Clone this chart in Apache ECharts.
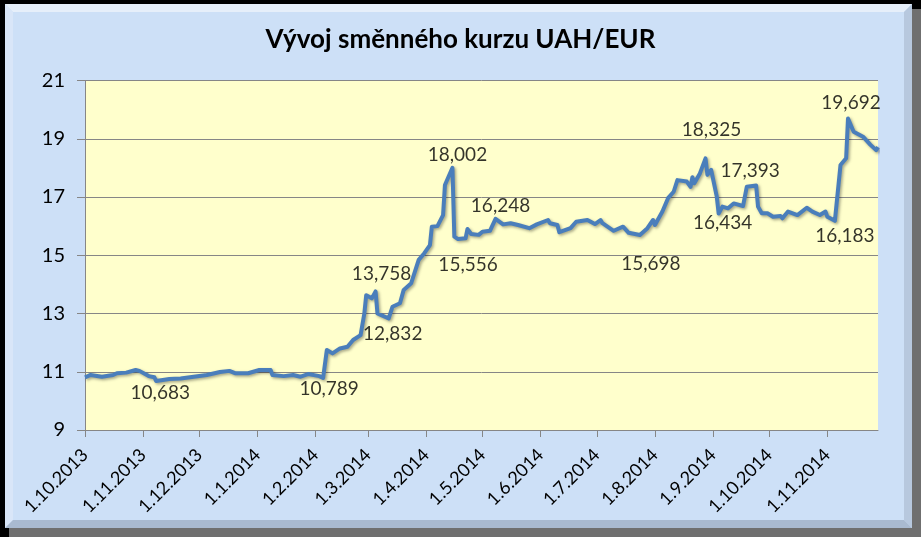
<!DOCTYPE html>
<html><head><meta charset="utf-8">
<script src="https://cdn.jsdelivr.net/npm/echarts@6/dist/echarts.min.js"></script>
<style>html,body{margin:0;padding:0;background:#000;}#c{width:921px;height:537px;}</style>
</head><body><div id="c"></div>
<script>
// ---- data ----
const dates = ['2013-10-01','2013-10-04','2013-10-10','2013-10-16','2013-10-18','2013-10-23','2013-10-28','2013-10-30','2013-11-04','2013-11-07','2013-11-08','2013-11-15','2013-11-21','2013-11-28','2013-12-05','2013-12-12','2013-12-17','2013-12-20','2013-12-27','2014-01-02','2014-01-08','2014-01-09','2014-01-15','2014-01-20','2014-01-24','2014-01-28','2014-02-03','2014-02-05','2014-02-07','2014-02-10','2014-02-14','2014-02-18','2014-02-21','2014-02-25','2014-02-27','2014-02-28','2014-03-03','2014-03-05','2014-03-06','2014-03-12','2014-03-14','2014-03-18','2014-03-20','2014-03-24','2014-03-28','2014-03-31','2014-04-03','2014-04-04','2014-04-07','2014-04-10','2014-04-11','2014-04-12','2014-04-15','2014-04-16','2014-04-18','2014-04-22','2014-04-23','2014-04-25','2014-04-29','2014-05-01','2014-05-05','2014-05-08','2014-05-12','2014-05-16','2014-05-20','2014-05-26','2014-05-30','2014-06-05','2014-06-06','2014-06-10','2014-06-11','2014-06-17','2014-06-20','2014-06-26','2014-06-30','2014-07-03','2014-07-04','2014-07-10','2014-07-15','2014-07-18','2014-07-24','2014-07-28','2014-07-31','2014-08-01','2014-08-05','2014-08-08','2014-08-11','2014-08-13','2014-08-18','2014-08-20','2014-08-21','2014-08-22','2014-08-25','2014-08-28','2014-08-29','2014-08-31','2014-09-03','2014-09-04','2014-09-06','2014-09-09','2014-09-12','2014-09-17','2014-09-19','2014-09-24','2014-09-25','2014-09-27','2014-09-30','2014-10-03','2014-10-07','2014-10-08','2014-10-11','2014-10-16','2014-10-21','2014-10-24','2014-10-28','2014-10-31','2014-11-01','2014-11-05','2014-11-08','2014-11-11','2014-11-12','2014-11-15','2014-11-20','2014-11-24','2014-11-27','2014-11-28'];
const rates = [10.81,10.89,10.83,10.89,10.95,10.97,11.06,11.03,10.85,10.81,10.683,10.75,10.77,10.83,10.89,10.99,11.03,10.95,10.95,11.06,11.06,10.89,10.85,10.89,10.83,10.92,10.85,10.789,11.75,11.63,11.80,11.86,12.09,12.26,13.0,13.63,13.52,13.758,13.0,12.832,13.23,13.35,13.81,14.04,14.84,15.07,15.35,15.98,16.0,16.38,17.41,17.47,18.002,15.64,15.556,15.58,15.90,15.73,15.70,15.81,15.84,16.248,16.06,16.10,16.04,15.93,16.06,16.21,16.10,16.04,15.79,15.93,16.15,16.21,16.07,16.21,16.10,15.84,15.98,15.77,15.698,15.93,16.21,16.04,16.50,16.96,17.18,17.58,17.53,17.35,17.68,17.47,17.81,18.325,17.76,17.93,17.01,16.434,16.67,16.61,16.78,16.69,17.35,17.393,16.67,16.44,16.44,16.32,16.35,16.27,16.50,16.38,16.63,16.50,16.38,16.50,16.32,16.183,18.10,18.33,19.692,19.24,19.07,18.79,18.61,18.71];
const labelDates = ['2013-11-08','2014-02-05','2014-03-05','2014-03-12','2014-04-15','2014-04-18','2014-05-08','2014-07-24','2014-08-28','2014-09-04','2014-09-24','2014-11-05','2014-11-12'];
const tickDates = ['2013-10-01','2013-11-01','2013-12-01','2014-01-01','2014-02-01','2014-03-01','2014-04-01','2014-05-01','2014-06-01','2014-07-01','2014-08-01','2014-09-01','2014-10-01','2014-11-01'];
const tickLabels = ['1.10.2013','1.11.2013','1.12.2013','1.1.2014','1.2.2014','1.3.2014','1.4.2014','1.5.2014','1.6.2014','1.7.2014','1.8.2014','1.9.2014','1.10.2014','1.11.2014'];
const yTicks = [9, 11, 13, 15, 17, 19, 21];
const chartTitle = 'Vývoj směnného kurzu UAH/EUR';

// ---- style (label offsets from point, px) ----
const labelOffsets = [[4,12],[6,11],[6,-18],[4,15],[5,-13],[10,26],[5,-13],[11,29],[6,-29],[4,9],[-6,-15],[10,15],[3,-16]];

function dayIndex(s) {
  const p = s.split('-').map(Number);
  return (Date.UTC(p[0], p[1]-1, p[2]) - Date.UTC(2013, 9, 1)) / 86400000;
}
const lineData = dates.map((d, i) => [dayIndex(d), rates[i]]);
const tickVals = tickDates.map(dayIndex);
const labelData = labelDates.map((d, k) => {
  const i = dates.indexOf(d);
  return {
    value: [dayIndex(d), rates[i]],
    label: { offset: labelOffsets[k] }
  };
});
const FONT = 'Lato';

const chart = echarts.init(document.getElementById('c'));
chart.setOption({
  backgroundColor: '#000',
  animation: false,
  graphic: [
    { type: 'rect', z: -20, shape: { x: 9, y: 9, width: 912, height: 528 }, style: { fill: '#6f6f6f' } },
    { type: 'rect', z: -19, shape: { x: 5, y: 4, width: 907, height: 524 }, style: { fill: '#CDE0F7' } },
    { type: 'polygon', z: -18, shape: { points: [[5,4],[912,4],[904,12],[13,12]] }, style: { fill: '#E6EFFA' } },
    { type: 'polygon', z: -18, shape: { points: [[5,4],[13,12],[13,520],[5,528]] }, style: { fill: '#D9E6F8' } },
    { type: 'polygon', z: -18, shape: { points: [[912,4],[912,528],[904,520],[904,12]] }, style: { fill: '#B7C8DE' } },
    { type: 'polygon', z: -18, shape: { points: [[5,528],[13,520],[904,520],[912,528]] }, style: { fill: '#A9BAD0' } }
  ],
  title: {
    text: chartTitle,
    left: 'center',
    top: 22,
    textStyle: { fontFamily: FONT, fontSize: 26, fontWeight: 'bold', color: '#000' }
  },
  grid: { left: 85, top: 80.5, right: 43, bottom: 107, show: true, backgroundColor: '#FFFFCC', borderWidth: 0 },
  xAxis: {
    type: 'value',
    min: 0,
    max: dayIndex(dates[dates.length - 1]),
    axisLine: { onZero: false, lineStyle: { color: '#868686', width: 1 } },
    axisTick: { show: true, customValues: tickVals, length: 7, lineStyle: { color: '#868686' } },
    splitLine: { show: false },
    axisLabel: {
      customValues: tickVals,
      rotate: 45,
      margin: 22,
      fontFamily: FONT, fontSize: 18, color: '#000',
      formatter: v => { const k = tickVals.indexOf(v); return k >= 0 ? tickLabels[k] : ''; }
    }
  },
  yAxis: {
    type: 'value',
    min: yTicks[0], max: yTicks[yTicks.length - 1], interval: 2,
    axisLine: { show: true, lineStyle: { color: '#868686', width: 1 } },
    axisTick: { show: true, length: 8, lineStyle: { color: '#868686' } },
    splitLine: { show: true, lineStyle: { color: '#868686', width: 1 } },
    axisLabel: { margin: 20, fontFamily: FONT, fontSize: 20, color: '#000' }
  },
  series: [
    {
      type: 'line',
      data: lineData,
      showSymbol: false,
      lineStyle: { color: '#4A7EBB', width: 4, shadowColor: 'rgba(0,0,0,0.35)', shadowBlur: 3, shadowOffsetX: 1.5, shadowOffsetY: 1.5, join: 'round' },
      z: 3
    },
    {
      type: 'scatter',
      data: labelData,
      symbolSize: 1,
      itemStyle: { color: 'rgba(0,0,0,0)' },
      label: {
        show: true,
        position: 'inside',
        align: 'center',
        verticalAlign: 'middle',
        fontFamily: FONT, fontSize: 19, color: '#000',
        formatter: p => p.value[1].toFixed(3).replace('.', ',')
      },
      z: 4
    }
  ]
});
</script>
</body></html>
